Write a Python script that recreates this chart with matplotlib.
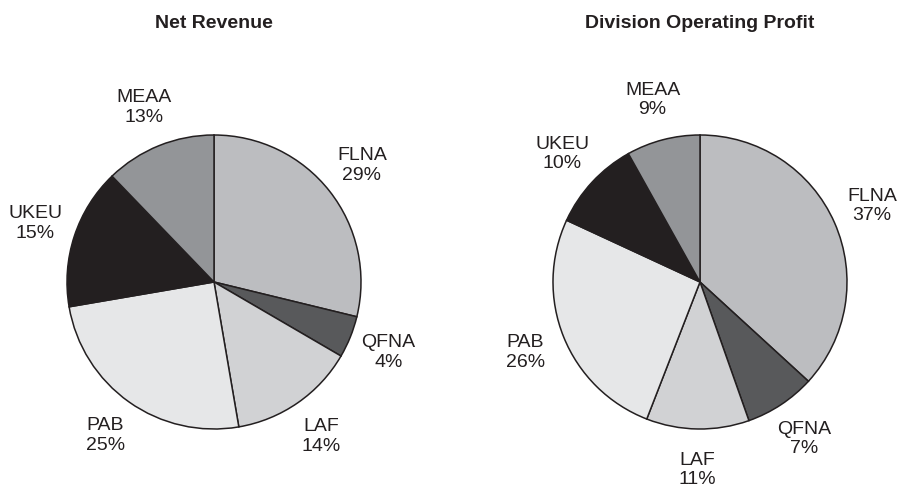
import matplotlib
matplotlib.use("Agg")
import matplotlib.pyplot as plt
import numpy as np

plt.rcParams["font.family"] = ["Liberation Sans", "DejaVu Sans"]

SEGMENTS = ["FLNA", "QFNA", "LAF", "PAB", "UKEU", "MEAA"]
COLORS = ["#bcbdc0", "#58595b", "#d1d2d4", "#e6e7e8", "#231f20", "#939598"]

REV_SIZES = [28.8, 4.6, 13.9, 25.0, 15.5, 12.2]
REV_LABELS = ["29%", "4%", "14%", "25%", "15%", "13%"]
OP_SIZES = [36.8, 7.8, 11.3, 26.0, 10.0, 8.1]
OP_LABELS = ["37%", "7%", "11%", "26%", "10%", "9%"]

W, H = 901, 487
R = 147  # pie radius in px


def draw_pie(fig, cx, cy, sizes, pcts, title):
    ax = fig.add_axes([(cx - R) / W, (H - cy - R) / H, 2 * R / W, 2 * R / H])
    wedges, _ = ax.pie(sizes, colors=COLORS, startangle=90, counterclock=False,
                       radius=1.0,
                       wedgeprops={"edgecolor": "#231f20", "linewidth": 1.1})
    ax.set_xlim(-1, 1); ax.set_ylim(-1, 1)
    ax.set_aspect("equal")
    ax.axis("off")
    for w, name, pct in zip(wedges, SEGMENTS, pcts):
        mid = np.deg2rad((w.theta1 + w.theta2) / 2)
        d = 1.28
        ax.text(d * np.cos(mid), d * np.sin(mid), f"{name}\n{pct}",
                ha="center", va="center", fontsize=14, color="#231f20",
                linespacing=1.2, clip_on=False)
    fig.text(cx / W, 1 - 23 / H, title, ha="center", va="center",
             fontsize=14, fontweight="bold", color="#231f20")


fig = plt.figure(figsize=(W / 100, H / 100), dpi=100)
draw_pie(fig, 214, 282, REV_SIZES, REV_LABELS, "Net Revenue")
draw_pie(fig, 700, 282, OP_SIZES, OP_LABELS, "Division Operating Profit")

fig.savefig("out.png", dpi=100)
